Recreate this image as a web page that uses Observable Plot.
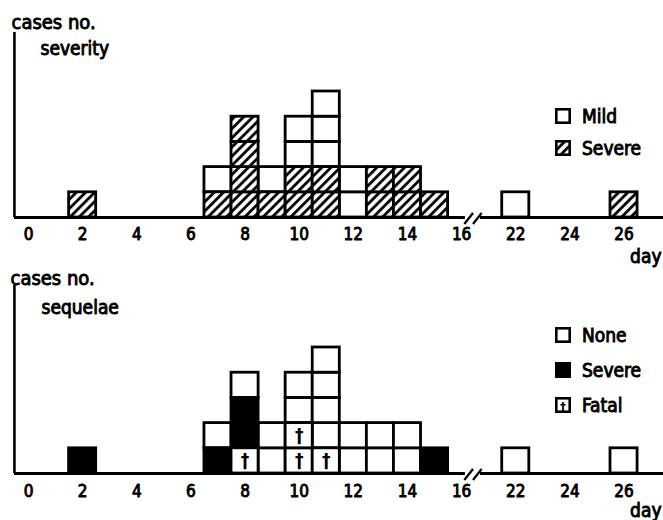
<!DOCTYPE html>
<html><head><meta charset="utf-8">
<script src="https://cdn.jsdelivr.net/npm/d3@7"></script>
<script src="https://cdn.jsdelivr.net/npm/@observablehq/plot@0.6"></script>
<style>
body{margin:0;background:#fff;}
#wrap{position:relative;width:663px;height:520px;font-family:"DejaVu Sans Condensed","DejaVu Sans",sans-serif;color:#000;}
#wrap svg.panel{display:block;}
.leg{position:absolute;left:555px;display:flex;align-items:center;font-size:19px;line-height:16px;height:16px;-webkit-text-stroke:0.9px black;}
.leg svg{margin-right:11px;display:block;}
</style></head>
<body>
<svg width="0" height="0" style="position:absolute">
  <defs>
    <pattern id="hatch" patternUnits="userSpaceOnUse" width="6.5" height="6.5" patternTransform="rotate(45)">
      <rect width="6.5" height="6.5" fill="white"/>
      <line x1="1.5" y1="0" x2="1.5" y2="6.5" stroke="black" stroke-width="2.8"/>
    </pattern>
  </defs>
</svg>
<div id="wrap"></div>
<script>
// ---- data ----
const days = [2, 7, 8, 9, 10, 11, 12, 13, 14, 15, 22, 26];
// categories stacked bottom -> top for each day
const severityStacks = [
  ["Severe"],
  ["Severe", "Mild"],
  ["Severe", "Severe", "Severe", "Severe"],
  ["Severe", "Mild"],
  ["Severe", "Severe", "Mild", "Mild"],
  ["Severe", "Severe", "Mild", "Mild", "Mild"],
  ["Mild", "Mild"],
  ["Severe", "Severe"],
  ["Severe", "Severe"],
  ["Severe"],
  ["Mild"],
  ["Severe"]
];
const sequelaeStacks = [
  ["Severe"],
  ["Severe", "None"],
  ["Fatal", "Severe", "Severe", "None"],
  ["None", "None"],
  ["Fatal", "Fatal", "None", "None"],
  ["Fatal", "None", "None", "None", "None"],
  ["None", "None"],
  ["None", "None"],
  ["None", "None"],
  ["Severe"],
  ["None"],
  ["None"]
];
const tickDays = [0, 2, 4, 6, 8, 10, 12, 14, 16, 22, 24, 26];
const severityCategories = ["Mild", "Severe"];
const sequelaeCategories = ["None", "Severe", "Fatal"];

// broken axis: days 16..22 compressed
const pos = d => d <= 16 ? d : d - 4;
const boxes = stacks => days.flatMap((d, i) => stacks[i].map((c, j) => ({day: d, x: pos(d), row: j, cat: c})));

const FONT = '"DejaVu Sans Condensed","DejaVu Sans",sans-serif';
const X0 = -0.52; // y-axis position
const TXT = {fill: "black", stroke: "black", strokeWidth: 0.9, lineAnchor: "middle"};

function panel({stacks, fills, title, mt, mb, h, yMax, tickDy, dayDy, capDy, capDx, titleDy, titleDx, dagger}) {
  const data = boxes(stacks);
  const marks = [];
  for (const [cat, fill] of Object.entries(fills)) {
    marks.push(Plot.rect(data.filter(d => d.cat === cat), {
      x1: d => d.x - 0.5, x2: d => d.x + 0.5, y1: d => d.row, y2: d => d.row + 1,
      fill, stroke: "black", strokeWidth: 2.8
    }));
  }
  if (dagger) {
    marks.push(Plot.text(data.filter(d => d.cat === dagger), {
      x: "x", y: d => d.row + 0.5, text: () => "†", fontSize: 19, fontWeight: "bold", fill: "black", lineAnchor: "middle"
    }));
  }
  // axis lines with break
  marks.push(Plot.ruleY([{a: X0, b: 16.14}, {a: 16.7, b: 23.5}], {x1: "a", x2: "b", y: 0, strokeWidth: 2.8}));
  marks.push(Plot.link([{a: 16.1, b: 16.42}, {a: 16.42, b: 16.74}], {x1: "a", x2: "b", y1: -0.26, y2: 0.18, strokeWidth: 2.2}));
  marks.push(Plot.ruleX([X0], {y1: 0, y2: yMax, strokeWidth: 2.6}));
  // tick labels
  marks.push(Plot.text(tickDays, {x: pos, y: 0, text: d => String(d), dy: tickDy, fontSize: 17, ...TXT}));
  marks.push(Plot.text(["day"], {frameAnchor: "bottom-right", text: d => d, dy: dayDy, dx: -2, textAnchor: "end", fontSize: 19, ...TXT}));
  marks.push(Plot.text(["cases no."], {frameAnchor: "top-left", text: d => d, dx: capDx, dy: capDy, textAnchor: "start", fontSize: 20, ...TXT}));
  marks.push(Plot.text([title], {frameAnchor: "top-left", text: d => d, dx: titleDx, dy: titleDy, textAnchor: "start", fontSize: 19, ...TXT}));
  return Plot.plot({
    width: 663, height: h, marginLeft: 0, marginRight: 0, marginTop: mt, marginBottom: mb,
    x: {domain: [-28 / 27.07, 635 / 27.07], axis: null},
    y: {domain: [0, yMax], axis: null},
    style: {fontFamily: FONT, background: "white", overflow: "visible"},
    marks
  });
}

const wrap = document.getElementById("wrap");
const topPanel = panel({
  stacks: severityStacks, fills: {Mild: "white", Severe: "url(#hatch)"}, title: "severity",
  mt: 32, mb: 43, h: 260, yMax: (217 - 32) / 25.2, tickDy: 17, dayDy: 39, capDy: -10, capDx: 11, titleDy: 16, titleDx: 40
});
topPanel.classList.add("panel");
wrap.appendChild(topPanel);
const botPanel = panel({
  stacks: sequelaeStacks, fills: {None: "white", Severe: "black", Fatal: "white"}, title: "sequelae", dagger: "Fatal",
  mt: 25, mb: 47, h: 260, yMax: (213 - 25) / 25.2, tickDy: 18, dayDy: 37, capDy: -7, capDx: 10, titleDy: 22, titleDx: 41
});
botPanel.classList.add("panel");
wrap.appendChild(botPanel);

// legends
function legend(items, y0, step) {
  items.forEach((it, i) => {
    const div = document.createElement("div");
    div.className = "leg";
    div.style.top = (y0 + i * step) + "px";
    let inner = `<rect x="1.3" y="1.3" width="13.4" height="13.4" fill="${it.fill}" stroke="black" stroke-width="2.6"/>`;
    if (it.dagger) inner += `<text x="8" y="13.5" text-anchor="middle" font-size="13" font-weight="bold" font-family='${FONT}' style="-webkit-text-stroke:0">†</text>`;
    div.innerHTML = `<svg width="16" height="16">${inner}</svg><span>${it.name}</span>`;
    wrap.appendChild(div);
  });
}
const sevFill = {Mild: "white", Severe: "url(#hatch)"};
const seqFill = {None: "white", Severe: "black", Fatal: "white"};
legend(severityCategories.map(n => ({name: n, fill: sevFill[n]})), 108, 32);
legend(sequelaeCategories.map(n => ({name: n, fill: seqFill[n], dagger: n === "Fatal"})), 327, 35);
</script>
</body></html>
